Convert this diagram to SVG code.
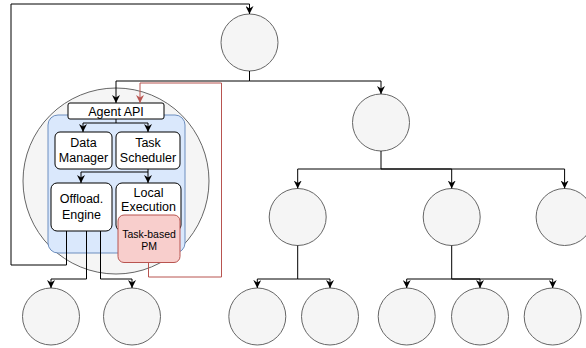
<svg xmlns="http://www.w3.org/2000/svg" width="586" height="348" viewBox="0 0 586 348">
<style>
.c{fill:#f5f5f5;stroke:#666666;stroke-width:1}
.b{fill:#ffffff;stroke:#000000;stroke-width:1}
.t{font-family:"Liberation Sans",Arial,sans-serif;font-size:12.5px;fill:#000;text-anchor:middle}
.e{fill:none;stroke:#000;stroke-width:1}
.r{fill:none;stroke:#b85450;stroke-width:1}
</style>
<defs>
<marker id="a" viewBox="0 0 10 10" refX="10" refY="5" markerWidth="8" markerHeight="8" markerUnits="userSpaceOnUse" orient="auto"><path d="M0,0 L10,5 L0,10 L3,5 z" fill="#000"/></marker>
<marker id="ar" viewBox="0 0 10 10" refX="10" refY="5" markerWidth="8" markerHeight="8" markerUnits="userSpaceOnUse" orient="auto"><path d="M0,0 L10,5 L0,10 L3,5 z" fill="#b85450"/></marker>
</defs>
<rect width="586" height="348" fill="#fff"/>
<g id="root"><circle class="c" cx="249.5" cy="42.5" r="28.5"/></g>
<g id="agent-node"><circle class="c" cx="116" cy="181" r="93"/></g>
<g id="blue-panel"><rect x="48" y="115" width="137" height="138" rx="10" fill="#dae8fc" stroke="#6c8ebf"/></g>
<g id="agent-api"><rect class="b" x="68" y="103" width="96" height="16" rx="2"/><text class="t" x="116" y="115.5">Agent API</text></g>
<g id="data-manager"><rect class="b" x="55" y="132" width="57" height="37" rx="5"/><text class="t" x="83.5" y="147">Data</text><text class="t" x="83.5" y="161.5">Manager</text></g>
<g id="task-scheduler"><rect class="b" x="116" y="132" width="64" height="37" rx="5"/><text class="t" x="148" y="147">Task</text><text class="t" x="148" y="161.5">Scheduler</text></g>
<g id="offload-engine"><rect class="b" x="51" y="183" width="61" height="48" rx="6"/><text class="t" x="81.5" y="203">Offload.</text><text class="t" x="81.5" y="219">Engine</text></g>
<g id="local-execution"><rect class="b" x="116" y="183" width="65" height="48" rx="6"/><text class="t" x="148.5" y="196.5">Local</text><text class="t" x="148.5" y="211">Execution</text></g>
<g id="task-pm"><rect x="118" y="215" width="62" height="47.5" rx="6" fill="#f8cecc" stroke="#b85450"/><text class="t" style="font-size:10.5px" x="149" y="237.5">Task-based</text><text class="t" style="font-size:10.5px" x="149" y="249.5">PM</text></g>
<g id="leaf-l1"><circle class="c" cx="51" cy="316.5" r="28.5"/></g>
<g id="leaf-l2"><circle class="c" cx="132" cy="316.5" r="28.5"/></g>
<g id="mid"><circle class="c" cx="381" cy="122.5" r="28.5"/></g>
<g id="n3a"><circle class="c" cx="297.7" cy="217" r="28.5"/></g>
<g id="n3b"><circle class="c" cx="451.7" cy="217" r="28.5"/></g>
<g id="n3c"><circle class="c" cx="564.6" cy="217" r="28.5"/></g>
<g id="n4a"><circle class="c" cx="257.3" cy="316.5" r="28.5"/></g>
<g id="n4b"><circle class="c" cx="330" cy="316.5" r="28.5"/></g>
<g id="n4c"><circle class="c" cx="406.7" cy="316.5" r="28.5"/></g>
<g id="n4d"><circle class="c" cx="480" cy="316.5" r="28.5"/></g>
<g id="n4e"><circle class="c" cx="552.7" cy="316.5" r="28.5"/></g>
<g id="connectors">
<path class="e" d="M66.5,231 V265 H11 V4 H249.5 V14" marker-end="url(#a)"/>
<path class="e" d="M249.5,71 V81 H116 V103" marker-end="url(#a)"/>
<path class="e" d="M249.5,81 H381 V94" marker-end="url(#a)"/>
<path class="r" d="M148.5,262.5 V277 H221.5 V83 H140 V103" marker-end="url(#ar)"/>
<path class="e" d="M116,119 V123 H83 V132" marker-end="url(#a)"/>
<path class="e" d="M116,123 H148 V132" marker-end="url(#a)"/>
<path class="e" d="M148,169 V172 H81 V183" marker-end="url(#a)"/>
<path class="e" d="M148,172 V183" marker-end="url(#a)"/>
<path class="e" d="M86.5,231 V279 H51 V288" marker-end="url(#a)"/>
<path class="e" d="M100.5,231 V279 H132 V288" marker-end="url(#a)"/>
<path class="e" d="M381,151 V169 H297.7 V188.5" marker-end="url(#a)"/>
<path class="e" d="M381,169 H451.7 V188.5" marker-end="url(#a)"/>
<path class="e" d="M381,169 H564.6 V188.5" marker-end="url(#a)"/>
<path class="e" d="M297.7,245.5 V279 H257.3 V288" marker-end="url(#a)"/>
<path class="e" d="M297.7,279 H330 V288" marker-end="url(#a)"/>
<path class="e" d="M451.7,245.5 V279 H406.7 V288" marker-end="url(#a)"/>
<path class="e" d="M451.7,279 H480 V288" marker-end="url(#a)"/>
<path class="e" d="M451.7,279 H552.7 V288" marker-end="url(#a)"/>
</g>
</svg>
